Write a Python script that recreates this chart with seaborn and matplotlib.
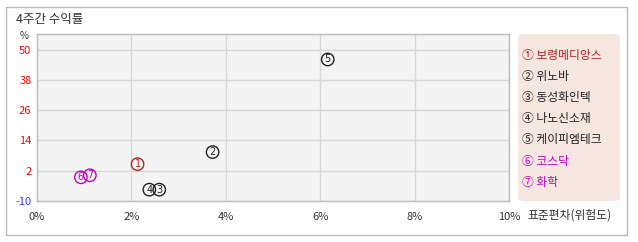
import matplotlib
matplotlib.use("Agg")
import matplotlib.pyplot as plt
import seaborn as sns
import pandas as pd
from matplotlib.patches import FancyBboxPatch, Rectangle

sns.set_theme(style="white")
plt.rcParams['font.family'] = ['Noto Sans CJK KR', 'DejaVu Sans']

names = ["보령메디앙스", "위노바", "동성화인텍", "나노신소재", "케이피엠테크", "코스닥", "화학"]
marks = ["①", "②", "③", "④", "⑤", "⑥", "⑦"]
std_dev = [2.13, 3.72, 2.59, 2.38, 6.16, 0.93, 1.12]
returns = [4.6, 9.4, -5.5, -5.5, 46.1, -0.6, 0.2]
colors = ["#b22222", "#222222", "#222222", "#222222", "#222222", "#c000c0", "#c000c0"]
y_ticks = [-10, 2, 14, 26, 38, 50]
x_ticks = [0, 2, 4, 6, 8, 10]

df = pd.DataFrame({"name": names, "x": std_dev, "y": returns})

fig = plt.figure(figsize=(6.38, 2.42), dpi=100)
fig.patch.set_facecolor("white")
# outer frame
fig.add_artist(Rectangle((6/638, 1-235/242), 621/638, 228/242, transform=fig.transFigure,
                         fill=False, edgecolor="#bbbbbb", linewidth=1))
fig.text(16/638, 1-19/242, "4주간 수익률", fontsize=9, color="#333333", va="center", ha="left")

ax = fig.add_axes([37/638, 1-201/242, 472/638, 167/242])
ax.set_facecolor("#f4f4f4")
sns.scatterplot(data=df, x="x", y="y", hue="name", palette=colors, ax=ax,
                s=80, marker="o", legend=False, linewidth=1.0)
for coll in ax.collections:
    coll.set_facecolor("none")
    coll.set_edgecolors(colors)
for i, (xi, yi, c) in enumerate(zip(std_dev, returns, colors)):
    ax.text(xi, yi, str(i + 1), color=c, fontsize=7, ha="center", va="center",
            family="DejaVu Sans")

ax.set_xlim(0, 10)
ax.set_ylim(-10, 56.2)
ax.set_xticks(x_ticks)
ax.set_xticklabels([f"{t}%" for t in x_ticks], fontsize=8, color="#333333")
ax.set_yticks(y_ticks)
ax.set_yticklabels([str(t) for t in y_ticks], fontsize=8)
for lbl, t in zip(ax.get_yticklabels(), y_ticks):
    lbl.set_color("#3333ff" if t < 0 else "#ff0000")
ax.tick_params(axis="both", length=0, pad=4)
ax.tick_params(axis="x", pad=8)
ax.grid(True, color="#d8d8d8", linewidth=1)
ax.set_axisbelow(True)
for s in ax.spines.values():
    s.set_color("#bbbbbb")
    s.set_linewidth(1)
ax.set_xlabel("")
ax.set_ylabel("")
fig.text(24/638, 1-36/242, "%", fontsize=7, color="#333333", ha="center", va="center")
fig.text(527/638, 1-215/242, "표준편차(위험도)", fontsize=8.5, color="#333333", ha="left", va="center")

# legend box
fig.add_artist(FancyBboxPatch((518/638, 1-201/242), 102/638, 167/242, transform=fig.transFigure,
                              boxstyle="round,pad=0,rounding_size=0.012", facecolor="#f5e6df",
                              edgecolor="none"))
for i, (m, n, c) in enumerate(zip(marks, names, colors)):
    fig.text(522/638, 1-(55 + i*21.2)/242, f"{m} {n}", fontsize=8.5, color=c, ha="left", va="center")

fig.savefig("out.png", dpi=100)
